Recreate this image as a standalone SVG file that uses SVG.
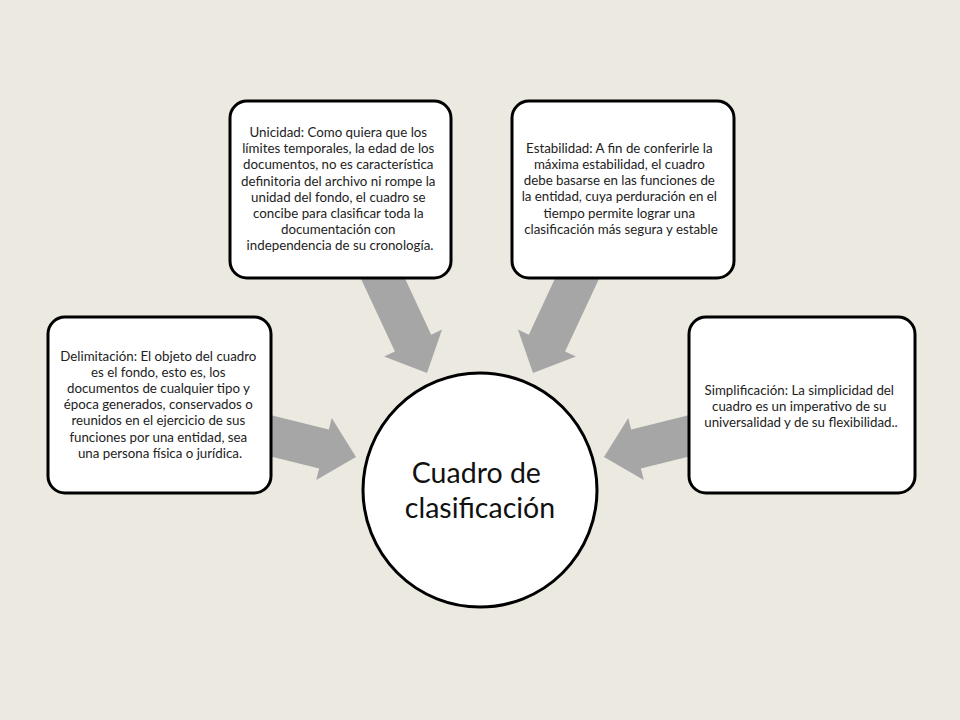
<svg xmlns="http://www.w3.org/2000/svg" width="960" height="720" viewBox="0 0 960 720">
  <defs>
    <style>
      .box { fill: #ffffff; stroke: #000000; stroke-width: 3; }
      .arrow { fill: #a6a6a6; }
      .t { font-family: Lato, "Open Sans", "Liberation Sans", sans-serif; font-size: 13.3px; fill: #222222; text-anchor: middle; }
      .big { font-family: Lato, "Open Sans", "Liberation Sans", sans-serif; font-size: 28.5px; fill: #111111; text-anchor: middle; }
    </style>
    <path id="arr" d="M0,0 L-33,-32 L-33,-20 L-120,-20 L-120,20 L-33,20 L-33,32 Z"/>
  </defs>
  <rect x="0" y="0" width="960" height="720" fill="#ece9e0"/>

  <g id="connectors">
    <use href="#arr" class="arrow" transform="translate(356,457) rotate(14)"/>
    <use href="#arr" class="arrow" transform="translate(604,457) rotate(166)"/>
    <use href="#arr" class="arrow" transform="translate(427,373) rotate(65)"/>
    <use href="#arr" class="arrow" transform="translate(533,373) rotate(115)"/>
  </g>

  <g id="node-delimitacion">
    <rect class="box" x="48" y="317" width="223" height="176" rx="17"/>
    <text class="t">
      <tspan x="160" y="361">Delimitación: El objeto del cuadro</tspan>
      <tspan x="160" y="377.1">es el fondo, esto es, los</tspan>
      <tspan x="160" y="393.2">documentos de cualquier tipo y</tspan>
      <tspan x="160" y="409.3">época generados, conservados o</tspan>
      <tspan x="160" y="425.4">reunidos en el ejercicio de sus</tspan>
      <tspan x="160" y="441.5">funciones por una entidad, sea</tspan>
      <tspan x="160" y="457.6">una persona física o jurídica.</tspan>
    </text>
  </g>

  <g id="node-unicidad">
    <rect class="box" x="230" y="101" width="221" height="177" rx="17"/>
    <text class="t">
      <tspan x="340" y="137">Unicidad: Como quiera que los</tspan>
      <tspan x="340" y="153.2">límites temporales, la edad de los</tspan>
      <tspan x="340" y="169.4">documentos, no es característica</tspan>
      <tspan x="340" y="185.6">definitoria del archivo ni rompe la</tspan>
      <tspan x="340" y="201.8">unidad del fondo, el cuadro se</tspan>
      <tspan x="340" y="218">concibe para clasificar toda la</tspan>
      <tspan x="340" y="234.2">documentación con</tspan>
      <tspan x="340" y="250.4">independencia de su cronología.</tspan>
    </text>
  </g>

  <g id="node-estabilidad">
    <rect class="box" x="512" y="101" width="222" height="177" rx="17"/>
    <text class="t">
      <tspan x="621" y="152.8">Estabilidad: A fin de conferirle la</tspan>
      <tspan x="621" y="169">máxima estabilidad, el cuadro</tspan>
      <tspan x="621" y="185.2">debe basarse en las funciones de</tspan>
      <tspan x="621" y="201.4">la entidad, cuya perduración en el</tspan>
      <tspan x="621" y="217.6">tiempo permite lograr una</tspan>
      <tspan x="621" y="233.8">clasificación más segura y estable</tspan>
    </text>
  </g>

  <g id="node-simplificacion">
    <rect class="box" x="689" y="317" width="226" height="176" rx="17"/>
    <text class="t">
      <tspan x="801" y="394.5">Simplificación: La simplicidad del</tspan>
      <tspan x="801" y="410.7">cuadro es un imperativo de su</tspan>
      <tspan x="801" y="426.9">universalidad y de su flexibilidad..</tspan>
    </text>
  </g>

  <g id="node-cuadro">
    <circle class="box" cx="480" cy="490" r="117"/>
    <text class="big">
      <tspan x="480" y="483">Cuadro de</tspan>
      <tspan x="480" y="517.5">clasificación</tspan>
    </text>
  </g>
</svg>
